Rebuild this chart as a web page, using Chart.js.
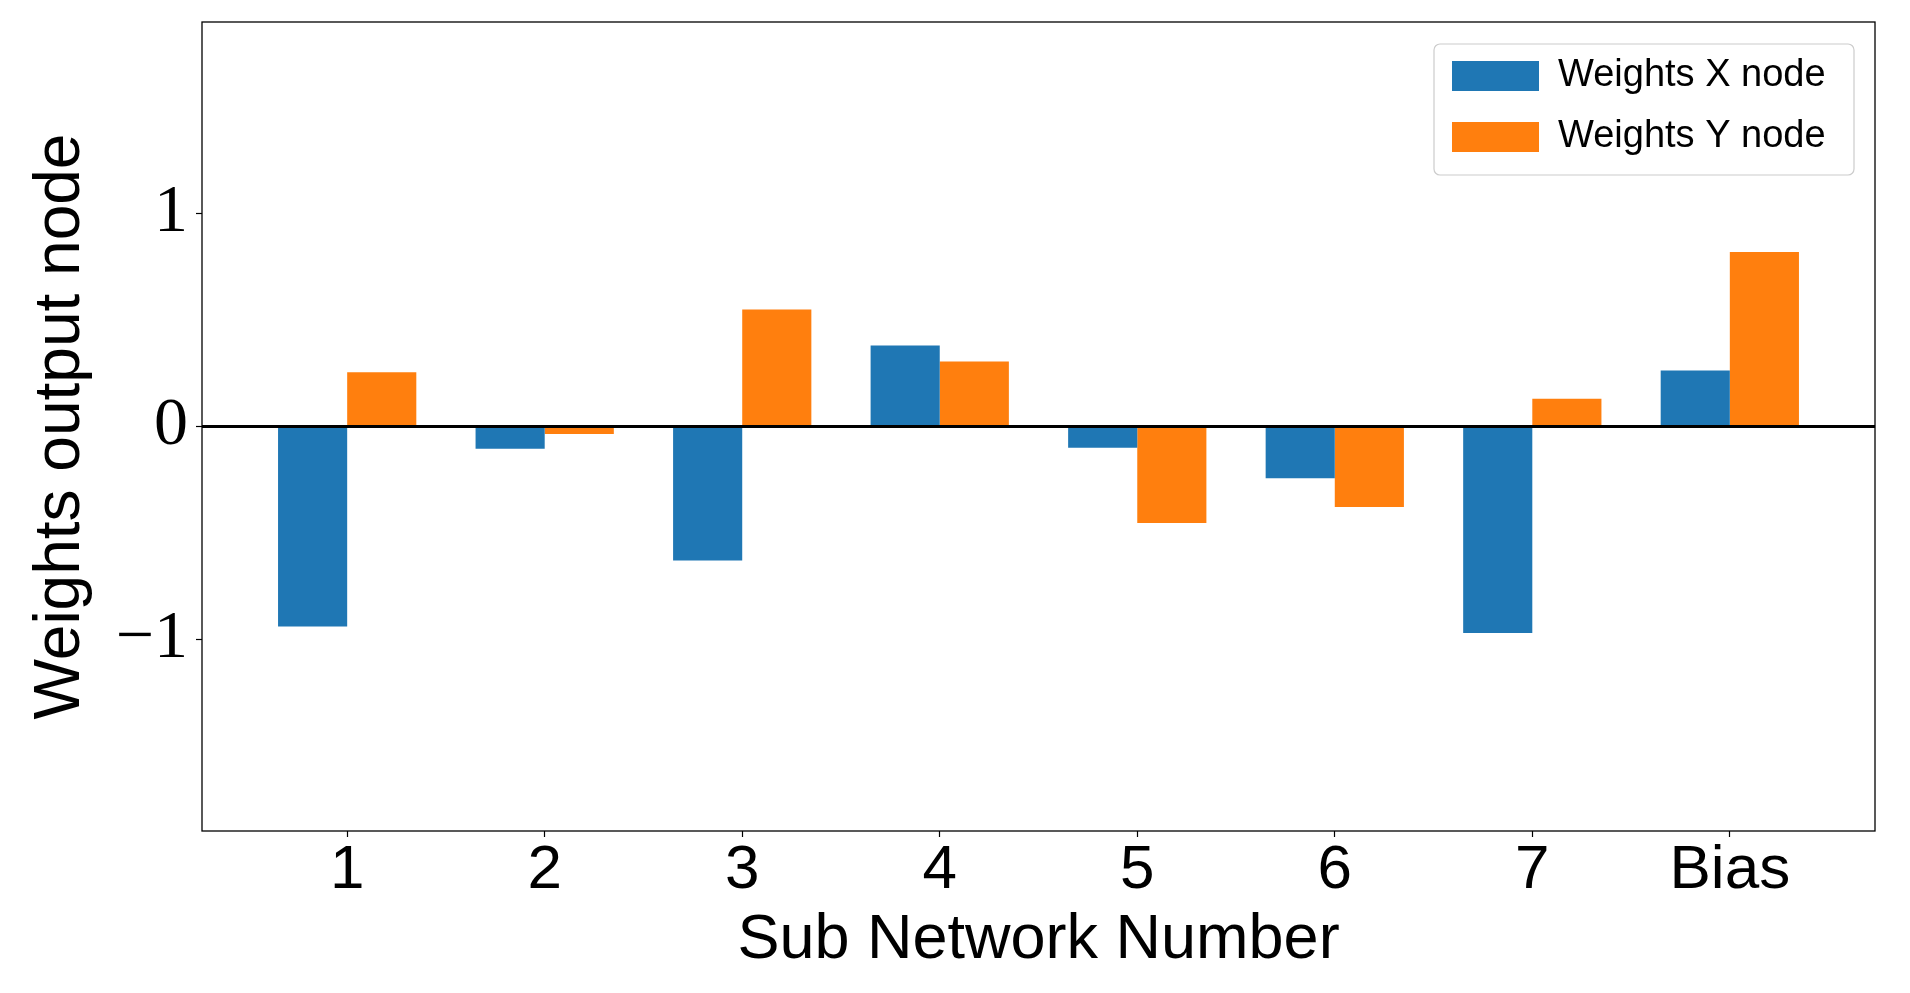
<!DOCTYPE html>
<html><head><meta charset="utf-8">
<script src="https://cdn.jsdelivr.net/npm/chart.js@4"></script>
<style>html,body{margin:0;padding:0;background:#fff;overflow:hidden;}</style>
</head><body>
<canvas id="c" width="1910" height="993"></canvas>
<script>
const categories = ['1', '2', '3', '4', '5', '6', '7', 'Bias'];
const weightsX = [-0.94, -0.105, -0.63, 0.38, -0.10, -0.243, -0.97, 0.263];
const weightsY = [0.255, -0.035, 0.55, 0.305, -0.453, -0.378, 0.13, 0.82];
const yTickValues = [-1, 0, 1];
const seriesNames = ['Weights X node', 'Weights Y node'];
const seriesColors = ['#1f77b4', '#ff7f0e'];
const xAxisTitle = 'Sub Network Number';
const yAxisTitle = 'Weights output node';

const toPoints = arr => arr.map((v, i) => ({x: i, y: v}));

const framePlugin = {
  id: 'frame',
  beforeDraw(chart) {
    const ca = chart.chartArea;
    const lg = chart.legend;
    if (lg) {
      const pad = lg.options.labels.padding;
      const w = lg.width, h = lg.height;
      lg.left = ca.right - 423 - pad;
      lg.top = ca.top + 35 - pad;
      lg.right = lg.left + w;
      lg.bottom = lg.top + h;
    }
  },
  afterDatasetsDraw(chart) {
    const ctx = chart.ctx, ca = chart.chartArea;
    const y0 = chart.scales.y.getPixelForValue(0);
    ctx.save();
    ctx.strokeStyle = '#000';
    ctx.lineWidth = 2.8;
    ctx.beginPath();
    ctx.moveTo(ca.left, y0);
    ctx.lineTo(ca.right, y0);
    ctx.stroke();
    ctx.restore();
  },
  afterDraw(chart) {
    const ctx = chart.ctx, ca = chart.chartArea;
    ctx.save();
    ctx.strokeStyle = '#000';
    ctx.lineWidth = 1.3;
    ctx.strokeRect(ca.left, ca.top, ca.right - ca.left, ca.bottom - ca.top);
    const fx = ca.right - 441, fy = ca.top + 22, fw = 420, fh = 131;
    ctx.strokeStyle = 'rgba(204,204,204,1)';
    ctx.lineWidth = 1.2;
    ctx.beginPath();
    ctx.roundRect(fx, fy, fw, fh, 6);
    ctx.stroke();
    ctx.restore();
  }
};

new Chart(document.getElementById('c'), {
  type: 'bar',
  data: {
    datasets: [
      {label: seriesNames[0], data: toPoints(weightsX), backgroundColor: seriesColors[0], borderWidth: 0},
      {label: seriesNames[1], data: toPoints(weightsY), backgroundColor: seriesColors[1], borderWidth: 0}
    ]
  },
  options: {
    responsive: false,
    animation: false,
    devicePixelRatio: 1,
    categoryPercentage: 0.7,
    barPercentage: 1.0,
    layout: {padding: {top: 22, right: 35, left: 0, bottom: 0}},
    plugins: {
      legend: {
        position: 'chartArea',
        align: 'start',
        labels: {
          boxWidth: 87,
          boxHeight: 30,
          padding: 23,
          color: '#000',
          font: {family: "'Liberation Sans', Arial, sans-serif", size: 38}
        }
      },
      tooltip: {enabled: false}
    },
    scales: {
      x: {
        type: 'linear',
        offset: false,
        min: -0.735,
        max: 7.735,
        afterBuildTicks: s => { s.ticks = categories.map((c, i) => ({value: i})); },
        afterFit: s => { s.height = 162; s.paddingLeft = 0; s.paddingRight = 0; },
        border: {display: false},
        grid: {offset: false, drawOnChartArea: false, color: '#000', tickColor: '#000', tickLength: 6, tickWidth: 1.2},
        ticks: {
          autoSkip: false, maxRotation: 0, padding: -3, color: '#000',
          font: {family: "'Liberation Sans', Arial, sans-serif", size: 62},
          callback: v => categories[v] !== undefined ? categories[v] : ''
        },
        title: {display: true, text: xAxisTitle, color: '#000', padding: {top: 0, bottom: 15},
          font: {family: "'Liberation Sans', Arial, sans-serif", size: 63}}
      },
      y: {
        min: -1.9,
        max: 1.9,
        afterBuildTicks: s => { s.ticks = yTickValues.map(v => ({value: v})); },
        afterFit: s => { s.width = 202; s.paddingTop = 0; s.paddingBottom = 0; },
        border: {display: false},
        grid: {drawOnChartArea: false, color: '#000', tickColor: '#000', tickLength: 6, tickWidth: 1.2},
        ticks: {
          padding: 8, color: '#000',
          font: {family: "'Liberation Serif', 'Times New Roman', serif", size: 68},
          callback: v => v < 0 ? '\u2212' + Math.abs(v) : String(v)
        },
        title: {display: true, text: yAxisTitle, color: '#000', padding: {top: 23, bottom: 0},
          font: {family: "'Liberation Sans', Arial, sans-serif", size: 64}}
      }
    }
  },
  plugins: [framePlugin]
});
</script>
</body></html>
